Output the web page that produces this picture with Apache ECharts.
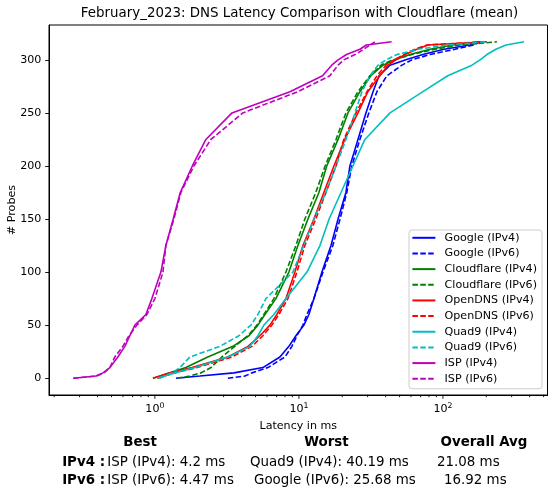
<!DOCTYPE html>
<html>
<head>
<meta charset="utf-8">
<script src="https://cdn.jsdelivr.net/npm/echarts@6/dist/echarts.min.js"></script>
<style>
  html, body { margin: 0; padding: 0; background: #fff; }
  #chart { width: 555px; height: 496px; }
</style>
</head>
<body>
<div id="chart"></div>
<script>
// cumulative probe count (y) and the latency in ms reached at that count (x)
const probeCounts = [0, 2, 5, 10, 20, 30, 40, 50, 60, 75, 100, 125, 150, 175, 200, 225, 250, 270, 285, 295, 300, 305, 310, 314, 317];

const googleV4     = [1.40, 2.05, 3.54, 5.62, 7.38, 8.52, 9.53, 10.83, 11.73, 12.71, 14.45, 16.7, 18.7, 21.2, 22.6, 25.7, 29.2, 32.7, 36.0, 42.9, 55.3, 72.6, 101.6, 154, 178];
const googleV6     = [3.21, 4.22, 4.72, 6.09, 8.00, 8.94, 9.68, 10.66, 11.37, 12.71, 14.68, 17.2, 19.3, 21.5, 23.3, 26.5, 30.6, 34.8, 40.8, 51.9, 60.9, 81.3, 121, 164, 181];
const cloudflareV4 = [0.969, 1.083, 1.27, 1.64, 2.33, 3.48, 4.50, 5.19, 5.81, 6.92, 8.52, 9.84, 11.55, 13.77, 15.6, 18.7, 21.9, 26.5, 31.6, 38.3, 46.4, 59.0, 81.3, 117, 187];
const cloudflareV6 = [1.42, 1.75, 2.09, 2.45, 2.92, 3.59, 4.42, 5.11, 5.71, 6.70, 8.12, 9.53, 11.0, 13.1, 15.2, 18.1, 21.2, 25.7, 31.1, 37.1, 45.0, 61.0, 87.9, 131, 237];
const openDnsV4    = [0.969, 1.083, 1.27, 1.81, 3.21, 4.43, 5.36, 6.29, 7.03, 8.13, 9.38, 10.66, 12.71, 14.9, 17.5, 20.8, 25.7, 30.1, 36.5, 41.5, 47.2, 54.5, 65.9, 78.7, 202];
const openDnsV6    = [1.049, 1.17, 1.377, 1.96, 3.43, 4.72, 5.62, 6.49, 7.26, 8.39, 9.68, 11.0, 13.1, 15.4, 18.1, 20.5, 24.9, 29.7, 34.8, 40.2, 45.7, 53.6, 64.0, 77.5, 187];
const quad9V4      = [1.032, 1.17, 1.377, 1.90, 3.21, 4.57, 5.19, 5.71, 6.70, 8.13, 11.37, 14.0, 16.2, 19.6, 23.7, 28.7, 42.9, 72.6, 108, 159, 181, 202, 233, 274, 365];
const quad9V6      = [1.083, 1.17, 1.312, 1.49, 1.75, 2.83, 3.83, 4.64, 5.19, 5.90, 9.08, 10.8, 12.7, 15.4, 18.1, 21.2, 24.5, 27.4, 31.1, 35.4, 40.2, 48.0, 67.0, 107, 202];
const ispV4        = [0.271, 0.389, 0.436, 0.487, 0.553, 0.619, 0.670, 0.726, 0.866, 0.953, 1.101, 1.192, 1.340, 1.500, 1.820, 2.26, 3.43, 8.66, 14.6, 16.9, 18.7, 21.4, 26.5, 29.4, 44.0];
const ispV6        = [0.271, 0.395, 0.443, 0.487, 0.527, 0.600, 0.660, 0.750, 0.880, 1.00, 1.137, 1.192, 1.355, 1.516, 1.866, 2.45, 4.08, 9.84, 16.4, 18.7, 20.5, 24.5, 28.2, 31.1, 33.7];

const yTicks = [0, 50, 100, 150, 200, 250, 300];
const majorTicks = [1, 10, 100];
const minorTicks = [0.2, 0.3, 0.4, 0.5, 0.6, 0.7, 0.8, 0.9, 2, 3, 4, 5, 6, 7, 8, 9,
                    20, 30, 40, 50, 60, 70, 80, 90, 200, 300, 400, 500];

const X_MIN = 0.184, X_MAX = 532;
const Y_MIN = -15.85, Y_MAX = 332.85;
const font = '"DejaVu Sans", sans-serif';
const dash = [5.5, 2.4];
const small = 11.1;   // tick labels, axis names, legend
const large = 13.4;   // title and summary table

const lines = [
  { name: 'Google (IPv4)',     lat: googleV4,     color: '#0000ff', dashed: false },
  { name: 'Google (IPv6)',     lat: googleV6,     color: '#0000ff', dashed: true },
  { name: 'Cloudflare (IPv4)', lat: cloudflareV4, color: '#008000', dashed: false },
  { name: 'Cloudflare (IPv6)', lat: cloudflareV6, color: '#008000', dashed: true },
  { name: 'OpenDNS (IPv4)',    lat: openDnsV4,    color: '#ff0000', dashed: false },
  { name: 'OpenDNS (IPv6)',    lat: openDnsV6,    color: '#ff0000', dashed: true },
  { name: 'Quad9 (IPv4)',      lat: quad9V4,      color: '#00bfbf', dashed: false },
  { name: 'Quad9 (IPv6)',      lat: quad9V6,      color: '#00bfbf', dashed: true },
  { name: 'ISP (IPv4)',        lat: ispV4,        color: '#bf00bf', dashed: false },
  { name: 'ISP (IPv6)',        lat: ispV6,        color: '#bf00bf', dashed: true }
];

const series = lines.map(l => ({
  name: l.name,
  type: 'line',
  data: probeCounts.map((c, i) => [l.lat[i], c]),
  symbol: 'none',
  showSymbol: false,
  color: l.color,
  lineStyle: { color: l.color, width: 1.6, type: l.dashed ? dash : 'solid' },
  emphasis: { disabled: true }
}));

// log axis ticks drawn through the axis scale (major 3.8px, minor 2.2px)
series.push({
  type: 'custom',
  silent: true,
  clip: false,
  z: 10,
  data: majorTicks.map(v => [v, 3.8]).concat(minorTicks.map(v => [v, 2.2])),
  encode: { x: 0 },
  renderItem: (params, api) => {
    const p = api.coord([api.value(0), Y_MIN]);
    return {
      type: 'line',
      shape: { x1: p[0], y1: p[1], x2: p[0], y2: p[1] + api.value(1) },
      style: { stroke: '#000', lineWidth: 0.9 }
    };
  }
});

function label(text, x, y, opts) {
  return {
    type: 'text', x: x, y: y, silent: true,
    style: Object.assign({
      text: text, fill: '#000', font: large + 'px ' + font,
      textAlign: 'left', align: 'left',
      textVerticalAlign: 'middle', verticalAlign: 'middle'
    }, opts || {})
  };
}
const bold = { font: 'bold ' + large + 'px ' + font };
const centre = { textAlign: 'center', align: 'center' };
const right = { textAlign: 'right', align: 'right' };

const chart = echarts.init(document.getElementById('chart'), null, { renderer: 'canvas' });
chart.setOption({
  animation: false,
  backgroundColor: '#fff',
  textStyle: { fontFamily: font },
  grid: {
    left: 49, right: 7.5, top: 25, bottom: 101,
    outerBoundsMode: 'none', containLabel: false,
    show: true, borderColor: '#000', borderWidth: 1, backgroundColor: 'transparent'
  },
  xAxis: {
    type: 'log', logBase: 10, min: X_MIN, max: X_MAX,
    name: 'Latency in ms', nameLocation: 'middle', nameGap: 26, nameMoveOverlap: false,
    nameTextStyle: { color: '#000', fontSize: small, fontFamily: font },
    axisLine: { show: true, onZero: false, lineStyle: { color: '#000', width: 1 } },
    axisTick: { show: false },
    minorTick: { show: false },
    splitLine: { show: false },
    axisLabel: {
      showMinLabel: false, showMaxLabel: false, margin: 7,
      formatter: v => '{b|10}{s|' + Math.round(Math.log10(v)) + '}',
      rich: {
        b: { fontSize: small, color: '#000', fontFamily: font },
        s: { fontSize: 7.8, color: '#000', fontFamily: font, verticalAlign: 'top', padding: [0, 0, 6, 0] }
      }
    }
  },
  yAxis: {
    type: 'value', min: Y_MIN, max: Y_MAX,
    name: '# Probes', nameLocation: 'middle', nameGap: 31, nameMoveOverlap: false,
    nameTextStyle: { color: '#000', fontSize: small, fontFamily: font },
    axisLine: { show: true, onZero: false, lineStyle: { color: '#000', width: 1 } },
    axisTick: { show: true, length: 3.8, customValues: yTicks, lineStyle: { color: '#000', width: 0.9 } },
    axisLabel: { customValues: yTicks, margin: 7.6, color: '#000', fontSize: small, fontFamily: font },
    splitLine: { show: false }
  },
  legend: {
    data: lines.map(l => l.name),
    orient: 'vertical',
    left: 409, top: 230,
    padding: [2.3, 5, 4.5, 2.4],
    itemWidth: 23, itemHeight: 12, itemGap: 4.66,
    itemStyle: { opacity: 0 },
    backgroundColor: 'rgba(255,255,255,0.8)',
    borderColor: '#cccccc', borderWidth: 1, borderRadius: 3,
    textStyle: { color: '#000', fontSize: small, fontFamily: font, padding: [0, 0, 0, 4.2] },
    selectedMode: false
  },
  graphic: [
    label('February_2023: DNS Latency Comparison with Cloudflare (mean)', 299.5, 13.5,
          Object.assign({}, centre)),
    label('Best', 140, 442.3, Object.assign({}, bold, centre)),
    label('Worst', 326.5, 442.3, Object.assign({}, bold, centre)),
    label('Overall Avg', 484, 442.3, Object.assign({}, bold, centre)),
    label('IPv4 :', 105, 462.3, Object.assign({}, bold, right)),
    label('ISP (IPv4): 4.2 ms', 107.3, 462.3),
    label('Quad9 (IPv4): 40.19 ms', 250, 462.3),
    label('21.08 ms', 437, 462.3),
    label('IPv6 :', 105, 480.7, Object.assign({}, bold, right)),
    label('ISP (IPv6): 4.47 ms', 107.3, 480.7),
    label('Google (IPv6): 25.68 ms', 254, 480.7),
    label('16.92 ms', 444, 480.7)
  ],
  series: series
});
</script>
</body>
</html>
